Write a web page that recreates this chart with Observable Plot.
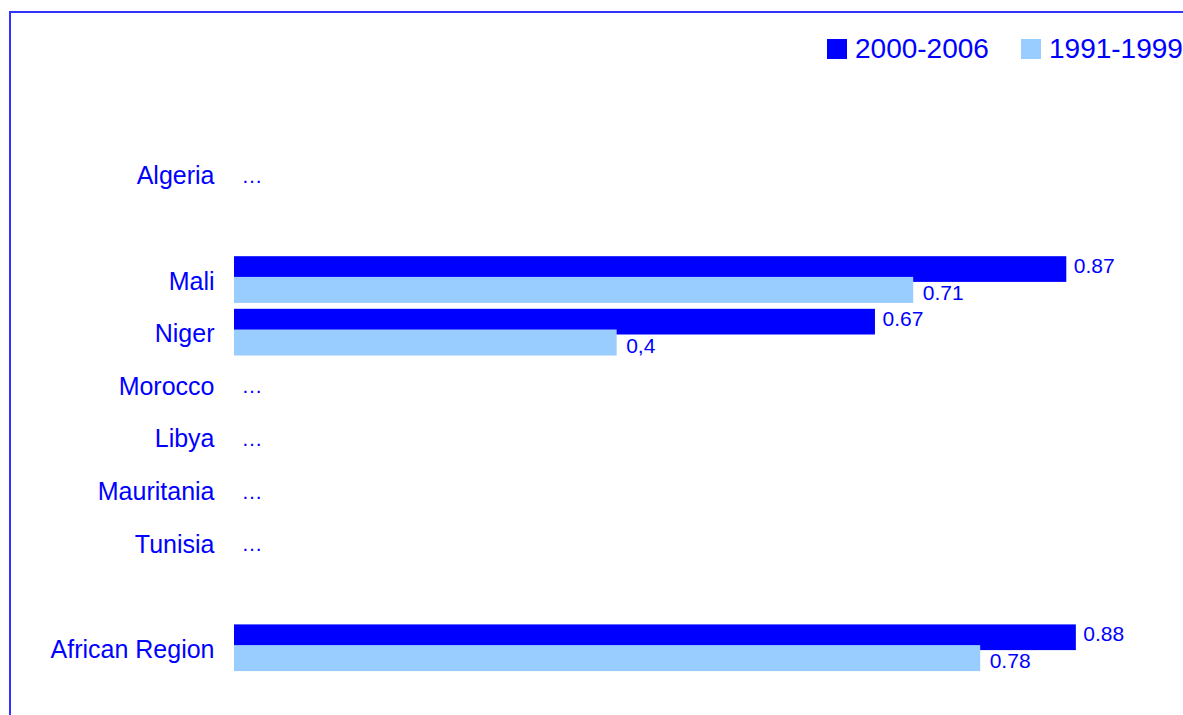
<!DOCTYPE html>
<html>
<head>
<meta charset="utf-8">
<script src="https://cdn.jsdelivr.net/npm/d3@7"></script>
<script src="https://cdn.jsdelivr.net/npm/@observablehq/plot@0.6"></script>
<style>
  html, body { margin: 0; padding: 0; background: #fff; width: 1183px; height: 715px; overflow: hidden; font-family: "Liberation Sans", Arial, sans-serif; }
  #frame { position: absolute; left: 9px; top: 11px; width: 1400px; height: 900px; border: 2px solid #3333ff; box-sizing: border-box; }
  #chart { position: absolute; left: 0; top: 0; }
  .leg { position: absolute; top: 35px; height: 28px; display: flex; align-items: center; gap: 8px; font-size: 28px; line-height: 28px; color: #0000ff; white-space: nowrap; }
  .sw { width: 20px; height: 20px; display: inline-block; }
</style>
</head>
<body>
<div id="frame"></div>
<div id="chart"></div>
<div id="legend"></div>
<script>
// ---- data ----
const slots = ["Algeria", "gap1", "Mali", "Niger", "Morocco", "Libya", "Mauritania", "Tunisia", "gap2", "African Region"];
const countries = ["Algeria", "Mali", "Niger", "Morocco", "Libya", "Mauritania", "Tunisia", "African Region"];
const values2000 = [null, 0.87, 0.67, null, null, null, null, 0.88];
const values1991 = [null, 0.71, 0.40, null, null, null, null, 0.78];
const labels2000 = ["", "0.87", "0.67", "", "", "", "", "0.88"];
const labels1991 = ["", "0.71", "0,4", "", "", "", "", "0.78"];
const seriesNames = ["2000-2006", "1991-1999"];
const seriesColors = ["#0000ff", "#99ccff"];
const missingMark = "…";

// ---- tables ----
const rows = countries.map((c, i) => ({
  country: c,
  v2000: values2000[i], v1991: values1991[i],
  l2000: labels2000[i], l1991: labels1991[i]
}));
const withData = rows.filter(d => d.v2000 != null);
const missing = rows.filter(d => d.v2000 == null);

const textColor = "#0000ff";

const plot = Plot.plot({
  width: 1183,
  height: 715,
  marginLeft: 234,
  marginRight: 0,
  marginTop: 148,
  marginBottom: 41,
  style: {background: "transparent", fontFamily: "'Liberation Sans', Arial, sans-serif", overflow: "visible"},
  x: {domain: [0, 0.992], axis: null},
  y: {domain: slots, padding: 0, round: false, axis: null},
  marks: [
    Plot.barX(withData, {x: "v2000", y: "country", fill: seriesColors[0], insetTop: 3, insetBottom: 23.9}),
    Plot.barX(withData, {x: "v1991", y: "country", fill: seriesColors[1], insetTop: 23.7, insetBottom: 2.9}),
    Plot.text(withData, {x: "v2000", y: "country", text: "l2000", dx: 7, dy: -13.5, textAnchor: "start", fontSize: 21, fill: textColor}),
    Plot.text(withData, {x: "v1991", y: "country", text: "l1991", dx: 9, dy: 13.2, textAnchor: "start", fontSize: 21, fill: textColor}),
    Plot.text(missing, {y: "country", text: () => missingMark, frameAnchor: "left", dx: 7, dy: 1.5, textAnchor: "start", fontSize: 21, fill: textColor}),
    Plot.axisY({ticks: countries, tickSize: 0, tickPadding: 20, fontSize: 25, dy: 1.5, color: textColor, label: null})
  ]
});
document.getElementById("chart").appendChild(plot);

// ---- legend ----
const legend = document.getElementById("legend");
const legendLefts = [827, 1021];
seriesNames.forEach((name, i) => {
  const item = document.createElement("div");
  item.className = "leg";
  item.style.left = legendLefts[i] + "px";
  const sw = document.createElement("span");
  sw.className = "sw";
  sw.style.background = seriesColors[i];
  const t = document.createElement("span");
  t.textContent = name;
  item.appendChild(sw);
  item.appendChild(t);
  legend.appendChild(item);
});
</script>
</body>
</html>
